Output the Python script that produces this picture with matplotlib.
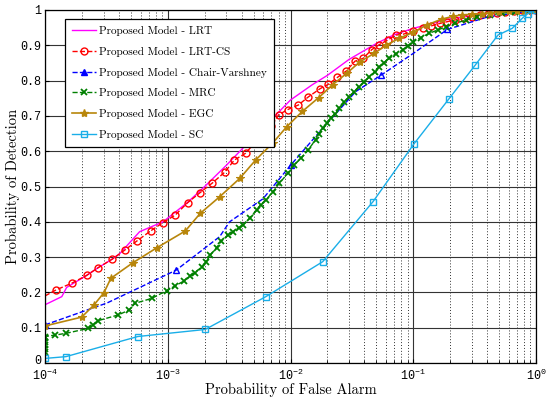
import matplotlib
matplotlib.use("Agg")
import matplotlib.pyplot as plt
from matplotlib.lines import Line2D
from matplotlib.ticker import LogLocator, NullFormatter
from matplotlib.transforms import ScaledTranslation

plt.rcParams['mathtext.fontset'] = 'custom'
plt.rcParams['mathtext.rm'] = 'Liberation Mono'
plt.rcParams['mathtext.it'] = 'Liberation Mono'

# ---------------- data ----------------
lrt_x = [1e-4, 1.37e-4, 1.5e-4, 2.18e-4, 2.71e-4, 3.52e-4, 4.07e-4, 5.9e-4, 9.16e-4,
         1.45e-3, 2e-3, 3e-3, 5e-3, 7e-3, 1e-2, 1.5e-2, 2e-2, 3e-2, 5e-2, 7e-2, 0.1,
         0.2, 0.5, 1.0]
lrt_y = [0.165, 0.188, 0.214, 0.248, 0.27, 0.294, 0.31, 0.372, 0.4,
         0.455, 0.5, 0.56, 0.64, 0.69, 0.745, 0.788, 0.815, 0.86, 0.905, 0.93, 0.948,
         0.975, 0.995, 1.0]

lrtcs_x = [1e-4, 1.23e-4, 1.65e-4, 2.18e-4, 2.71e-4, 3.52e-4, 4.47e-4, 5.57e-4, 7.24e-4,
           9.16e-4, 1.15e-3, 1.45e-3, 1.84e-3, 2.31e-3, 2.9e-3, 3.49e-3, 4.3e-3, 5.3e-3,
           6.95e-3, 8.0e-3, 9.5e-3, 1.16e-2, 1.4e-2, 1.74e-2, 2.02e-2, 2.41e-2, 2.84e-2,
           3.35e-2, 3.9e-2, 4.6e-2, 5.3e-2, 6.2e-2, 7.2e-2, 8.2e-2, 0.1, 0.12, 0.14,
           0.165, 0.19, 0.22, 0.26, 0.3, 0.35, 0.41, 0.48, 0.56, 0.66, 0.77, 0.9, 1.0]
lrtcs_y = [0.19, 0.207, 0.226, 0.248, 0.27, 0.294, 0.32, 0.345, 0.374,
           0.398, 0.419, 0.454, 0.483, 0.51, 0.54, 0.575, 0.594, 0.63,
           0.67, 0.703, 0.718, 0.731, 0.754, 0.777, 0.789, 0.809, 0.827,
           0.855, 0.863, 0.888, 0.902, 0.915, 0.929, 0.931, 0.94, 0.948, 0.955,
           0.962, 0.967, 0.972, 0.977, 0.981, 0.985, 0.989, 0.992, 0.995, 0.997, 0.999, 1.0, 1.0]

cv_x = [1e-4, 3.2e-4, 1.17e-3, 2.65e-3, 3.19e-3, 5.96e-3, 1e-2, 1.83e-2, 3.4e-2,
        5.5e-2, 0.1, 0.19, 0.4, 1.0]
cv_y = [0.108, 0.17, 0.263, 0.358, 0.4, 0.465, 0.56, 0.665, 0.769,
        0.816, 0.877, 0.945, 0.98, 1.0]
cv_marks = [0, 2, 6, 9, 11, 13]

mrc_x = [1e-4, 1e-4, 1e-4, 1e-4, 1e-4, 1e-4, 1.2e-4, 1.48e-4, 2.25e-4, 2.47e-4, 2.71e-4,
         3.94e-4, 4.84e-4, 5.4e-4, 7.4e-4, 9.8e-4, 1.14e-3, 1.35e-3, 1.51e-3, 1.66e-3,
         1.91e-3, 2.06e-3, 2.22e-3, 2.5e-3, 2.73e-3, 3.1e-3, 3.4e-3, 3.8e-3, 4.1e-3,
         4.64e-3, 5.3e-3, 5.7e-3, 6.3e-3, 7.2e-3, 8.1e-3, 9.6e-3, 1.07e-2, 1.22e-2,
         1.38e-2, 1.6e-2, 1.72e-2, 1.85e-2, 2.0e-2, 2.12e-2, 2.3e-2, 2.5e-2, 2.75e-2,
         3.0e-2, 3.3e-2, 3.6e-2, 4.0e-2, 4.4e-2, 4.85e-2, 5.3e-2, 5.8e-2, 6.4e-2,
         7.2e-2, 8.2e-2, 9.1e-2, 0.1, 0.115, 0.135, 0.16, 0.186, 0.22, 0.27, 0.33,
         0.42, 0.53, 0.68, 0.84, 1.0]
mrc_y = [0.03, 0.04, 0.05, 0.06, 0.07, 0.075, 0.079, 0.084, 0.098, 0.108, 0.12,
         0.136, 0.15, 0.169, 0.183, 0.205, 0.218, 0.232, 0.246, 0.256,
         0.273, 0.287, 0.306, 0.327, 0.345, 0.362, 0.372, 0.383, 0.391,
         0.41, 0.433, 0.448, 0.462, 0.485, 0.509, 0.539, 0.561, 0.58,
         0.602, 0.632, 0.65, 0.665, 0.68, 0.693, 0.706, 0.721, 0.738,
         0.754, 0.768, 0.783, 0.797, 0.811, 0.825, 0.839, 0.851, 0.863,
         0.876, 0.887, 0.899, 0.91, 0.922, 0.934, 0.944, 0.953, 0.962, 0.972, 0.979,
         0.986, 0.991, 0.995, 0.998, 1.0]

egc_x = [1e-4, 1.99e-4, 2.5e-4, 3.02e-4, 3.44e-4, 5.2e-4, 8.2e-4, 1.39e-3, 1.84e-3,
         2.65e-3, 3.86e-3, 5.2e-3, 7.2e-3, 9.3e-3, 1.25e-2, 1.7e-2, 2.2e-2, 2.9e-2,
         3.7e-2, 4.8e-2, 6.0e-2, 7.7e-2, 0.1, 0.13, 0.17, 0.21, 0.25, 0.3, 0.36,
         0.42, 0.5, 0.6, 0.7, 0.8, 0.9, 1.0]
egc_y = [0.105, 0.13, 0.164, 0.199, 0.24, 0.284, 0.327, 0.374, 0.424,
         0.471, 0.523, 0.575, 0.624, 0.669, 0.713, 0.752, 0.788, 0.822,
         0.854, 0.877, 0.9, 0.92, 0.937, 0.958, 0.974, 0.982, 0.986, 0.988, 0.99,
         0.992, 0.994, 0.996, 0.997, 0.998, 0.999, 1.0]

sc_x = [1e-4, 1.48e-4, 5.7e-4, 2.02e-3, 6.3e-3, 1.83e-2, 4.7e-2, 0.101, 0.194,
        0.32, 0.49, 0.64, 0.77, 0.86, 1.0]
sc_y = [0.013, 0.018, 0.075, 0.095, 0.188, 0.287, 0.457, 0.62, 0.747,
        0.844, 0.929, 0.948, 0.976, 0.99, 1.0]

labels = ['Proposed Model - LRT', 'Proposed Model - LRT-CS',
          'Proposed Model - Chair-Varshney', 'Proposed Model - MRC',
          'Proposed Model - EGC', 'Proposed Model - SC']
ytick_vals = [0, 0.1, 0.2, 0.3, 0.4, 0.5, 0.6, 0.7, 0.8, 0.9, 1]
ytick_labels = ['0', '0.1', '0.2', '0.3', '0.4', '0.5', '0.6', '0.7', '0.8', '0.9', '1']
xtick_vals = [1e-4, 1e-3, 1e-2, 1e-1, 1e0]
xtick_labels = [r'$10^{-4}$', r'$10^{-3}$', r'$10^{-2}$', r'$10^{-1}$', r'$10^{0}$']

c_mag = '#FF00FF'
c_red = '#FF0000'
c_blue = '#0000FF'
c_green = '#008000'
c_brown = '#B8860B'
c_cyan = '#1AAEE8'

# ---------------- figure ----------------
fig = plt.figure(figsize=(5.5, 3.99), dpi=100)
ax = fig.add_axes([45/550, 1-363/399, 491/550, 353/399])
ax.set_xscale('log')
ax.set_xlim(1e-4, 1)
ax.set_ylim(0, 1)

ax.grid(True, which='major', axis='both', color='0.2', linestyle='-', linewidth=0.8)
ax.xaxis.set_minor_locator(LogLocator(base=10, subs=range(2, 10)))
ax.xaxis.set_minor_formatter(NullFormatter())
ax.grid(True, which='minor', axis='x', color='0.2', linestyle=(0, (1, 2)), linewidth=0.7)
ax.set_axisbelow(True)

ax.plot(lrt_x, lrt_y, '-', color=c_mag, lw=1.0)
ax.plot(lrtcs_x, lrtcs_y, '--', color=c_red, lw=1.0, marker='o', ms=5, mfc='none',
        mew=1.0, markevery=list(range(1, len(lrtcs_x))))
ax.plot(cv_x, cv_y, '--', color=c_blue, lw=1.0, marker='^', ms=5, mfc='none',
        mew=1.0, markevery=cv_marks)
ax.plot(mrc_x, mrc_y, '--', color=c_green, lw=1.0, marker='x', ms=4.5, mew=1.3)
ax.plot(egc_x, egc_y, '-', color=c_brown, lw=1.2, marker='*', ms=6, mew=0.8)
ax.plot(sc_x, sc_y, '-', color=c_cyan, lw=1.0, marker='s', ms=4, mfc='none', mew=1.0)

ax.set_xticks(xtick_vals)
ax.set_xticklabels(xtick_labels)
ax.set_yticks(ytick_vals)
ax.set_yticklabels(ytick_labels)
ax.tick_params(axis='both', which='both', direction='in', labelsize=8.5, length=3,
               color='k')
ax.tick_params(axis='x', which='major', pad=3.5)
ax.tick_params(axis='y', which='major', pad=3)
ax.tick_params(axis='both', which='minor', length=2)
for lab in ax.get_yticklabels():
    lab.set_fontfamily('Liberation Mono')
zero_lab = ax.get_yticklabels()[0]
zero_lab.set_transform(zero_lab.get_transform() +
                       ScaledTranslation(0, 2.5 / 72, fig.dpi_scale_trans))
for sp in ax.spines.values():
    sp.set_color('k')
    sp.set_linewidth(0.9)

ax.set_xlabel('Probability of False Alarm', fontfamily='cmr10', fontsize=10.5)
ax.set_ylabel('Probability of Detection', fontfamily='cmr10', fontsize=10.5)
ax.xaxis.set_label_coords(0.5, -0.056)
ax.yaxis.set_label_coords(-0.05, 0.5)

handles = [
    Line2D([], [], color=c_mag, ls='-', lw=1.0),
    Line2D([], [], color=c_red, ls='--', lw=1.0, marker='o', ms=5, mfc='none', mew=1.0),
    Line2D([], [], color=c_blue, ls='--', lw=1.0, marker='^', ms=5, mfc=c_blue),
    Line2D([], [], color=c_green, ls='--', lw=1.0, marker='x', ms=4.5, mew=1.3),
    Line2D([], [], color=c_brown, ls='-', lw=1.2, marker='*', ms=6),
    Line2D([], [], color=c_cyan, ls='-', lw=1.0, marker='s', ms=4, mfc='none'),
]
leg = ax.legend(handles, labels, loc='upper left', bbox_to_anchor=(0.041, 0.974),
                borderaxespad=0, prop={'family': 'cmr10', 'size': 8.1},
                fancybox=False, framealpha=1, edgecolor='k', handlelength=2.1,
                handletextpad=0.3, labelspacing=0.95, borderpad=0.62)
leg.get_frame().set_linewidth(0.9)

fig.savefig('out.png', dpi=100)
